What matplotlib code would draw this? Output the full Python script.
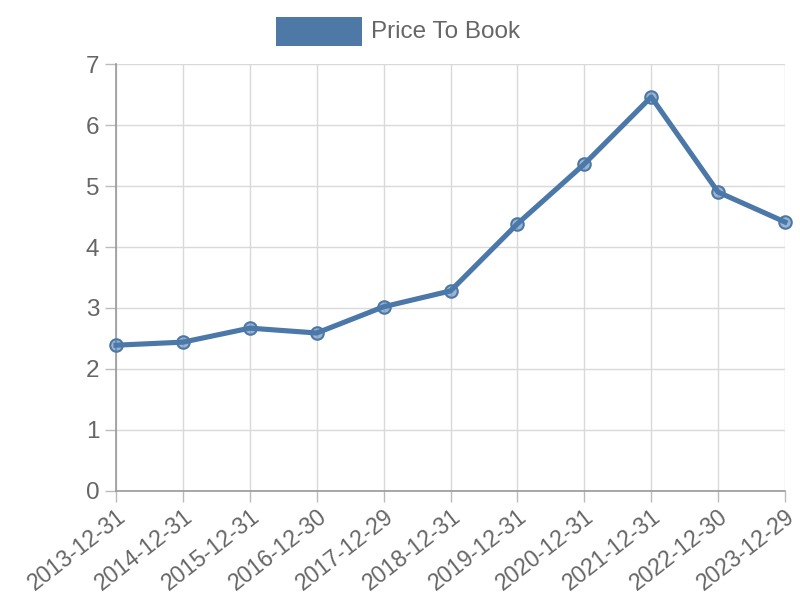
import matplotlib
matplotlib.use("Agg")
import matplotlib.pyplot as plt
from matplotlib.patches import Rectangle

dates = ['2013-12-31', '2014-12-31', '2015-12-31', '2016-12-30', '2017-12-29',
         '2018-12-31', '2019-12-31', '2020-12-31', '2021-12-31', '2022-12-30',
         '2023-12-29']
price_to_book = [2.39, 2.44, 2.67, 2.59, 3.02, 3.28, 4.38, 5.36, 6.46, 4.90, 4.41]

plt.rcParams['font.family'] = ['Liberation Sans', 'DejaVu Sans']
line_color = '#4b78a8'
text_color = '#666666'

fig = plt.figure(figsize=(8, 6), dpi=100)
ax = fig.add_axes([0.145, 0.1817, 0.83625, 0.7116])

x = list(range(len(dates)))
ax.plot(x, price_to_book, color=line_color, linewidth=3.7, zorder=3,
        marker='o', markersize=9, markerfacecolor=(0.29, 0.47, 0.66, 0.55),
        markeredgecolor=line_color, markeredgewidth=1.5, clip_on=False)

ax.set_xlim(0, len(dates) - 1)
ax.set_ylim(0, 7)
ax.set_yticks(range(8))
ax.set_xticks(x)
ax.set_xticklabels(dates, rotation=38, ha='right', rotation_mode='anchor')

ax.grid(True, color='#d9d9d9', linewidth=1)
ax.set_axisbelow(True)
for side in ['top', 'right']:
    ax.spines[side].set_visible(False)
for side in ['left', 'bottom']:
    ax.spines[side].set_color('#999999')
    ax.spines[side].set_linewidth(1.2)
ax.tick_params(axis='both', colors='#bbbbbb', labelcolor=text_color,
               labelsize=17.5, length=8, width=1)
ax.tick_params(axis='x', pad=2, labelsize=16.5)
ax.tick_params(axis='y', pad=4)

# legend box at the top
fig.add_artist(Rectangle((276 / 800, 1 - 46 / 600), 86 / 800, 29 / 600,
                         transform=fig.transFigure, facecolor='#4e79a7',
                         edgecolor='none'))
fig.text(371 / 800, 1 - 32 / 600, 'Price To Book', fontsize=17.5,
         color=text_color, va='center', ha='left')

plt.savefig('out.png', dpi=100)
